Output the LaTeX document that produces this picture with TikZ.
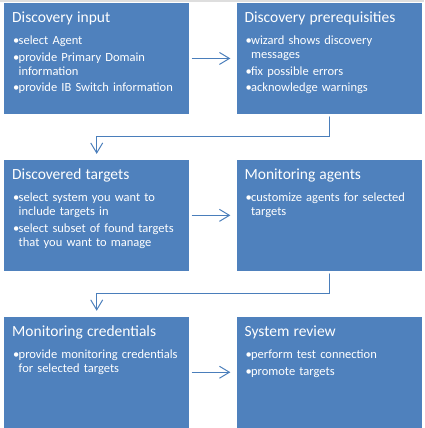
\documentclass[tikz,border=0pt]{standalone}
\usepackage{fontspec}
\setmainfont{Carlito}
\usetikzlibrary{positioning,calc,arrows.meta}
\definecolor{boxblue}{HTML}{4F81BD}
\definecolor{linkblue}{HTML}{4A7EBB}
\newcommand{\boxtitle}[1]{{\fontsize{15.5}{17}\selectfont #1\par}\vskip5.5pt}
\newcommand{\bul}[1]{\par\vskip2.5pt\hangindent=6.5pt\hangafter=1\noindent\makebox[6.5pt][l]{\hspace{1pt}\textbullet}#1}
\begin{document}
\begin{tikzpicture}[x=1pt, y=-1pt, font=\fontsize{12.5}{14}\selectfont, line cap=round, >={Straight Barb[length=10pt,width=12pt]}]
		\tikzset{stepbox/.style={fill=boxblue, minimum width=185pt, minimum height=110.5pt, inner sep=0pt, anchor=north west},
		boxtext/.style={text=white, text width=178pt, inner sep=0pt, anchor=north west},
		flow/.style={->, draw=linkblue, line width=1pt, shorten <=3pt, shorten >=6pt}}
		\useasboundingbox (0,0) rectangle (424,428);
		\fill[black!13] (0,0) rectangle (424,2);
		% the six steps
		\node[stepbox] (input) at (4,3) {};
		\node[stepbox, right=47pt of input] (prereq) {};
		\node[stepbox, below=46pt of input] (targets) {};
		\node[stepbox, right=47pt of targets] (agents) {};
		\node[stepbox, below=46pt of targets] (creds) {};
		\node[stepbox, right=47pt of creds] (review) {};
		\node[boxtext] (input-t) at ($(input.north west)+(8,9)$) {\boxtitle{Discovery input}%
			\bul{select Agent}\bul{provide Primary Domain\newline information}\bul{provide IB Switch information}\par};
		\node[boxtext] (prereq-t) at ($(prereq.north west)+(8,9)$) {\boxtitle{Discovery prerequisities}%
			\bul{wizard shows discovery\newline messages}\bul{fix possible errors}\bul{acknowledge warnings}\par};
		\node[boxtext] (targets-t) at ($(targets.north west)+(8,9)$) {\boxtitle{Discovered targets}%
			\bul{select system you want to\newline include targets in}\bul{select subset of found targets\newline that you want to manage}\par};
		\node[boxtext] (agents-t) at ($(agents.north west)+(8,9)$) {\boxtitle{Monitoring agents}%
			\bul{customize agents for selected\newline targets}\par};
		\node[boxtext] (creds-t) at ($(creds.north west)+(8,9)$) {\boxtitle{Monitoring credentials}%
			\bul{provide monitoring credentials\newline for selected targets}\par};
		\node[boxtext] (review-t) at ($(review.north west)+(8,9)$) {\boxtitle{System review}%
			\bul{perform test connection}\bul{promote targets}\par};
		% connectors
		\coordinate (m1) at ($(prereq.south)!.5!(targets.north)$);
		\coordinate (m2) at ($(agents.south)!.5!(creds.north)$);
		\draw[flow] (input) -- (prereq);
		\draw[flow] (prereq.south) |- (m1) -| (targets.north);
		\draw[flow] (targets) -- (agents);
		\draw[flow] (agents.south) |- (m2) -| (creds.north);
		\draw[flow] (creds) -- (review);
\end{tikzpicture}
\end{document}
